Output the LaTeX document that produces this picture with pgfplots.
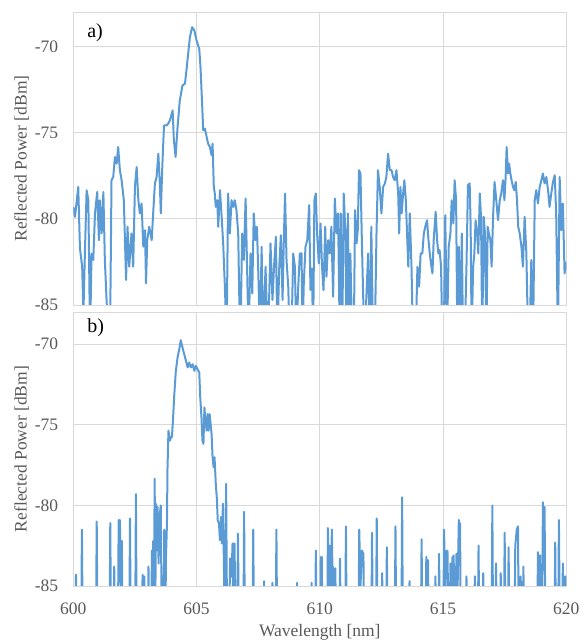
\documentclass[border=0pt]{standalone}
\usepackage{fontspec}
\setmainfont{Liberation Serif}
\usepackage{pgfplots}
\pgfplotsset{compat=1.18}
\definecolor{lineblue}{RGB}{91,155,213}
\definecolor{gridgray}{RGB}{217,217,217}
\definecolor{labelgray}{RGB}{89,89,89}
\pgfplotsset{
  common/.style={
    scale only axis, width=493pt,
    xmin=600, xmax=620, ymin=-85, ymax=-68,
    xtick={600,605,610,615,620}, ytick={-85,-80,-75,-70},
    grid=major,
    major grid style={color=gridgray, line width=0.8pt},
    axis line style={color=gridgray, line width=0.8pt},
    major tick length=0pt,
    /pgf/number format/assume math mode=true,
    tick label style={font=\fontsize{17.5}{20}\selectfont, color=labelgray, inner sep=0pt},
    yticklabel shift=15pt,
    xticklabel shift=16.5pt,
    every axis y label/.style={at={(axis description cs:-0.105,0.5)}, rotate=90, anchor=center,
      font=\fontsize{17.5}{20}\selectfont, color=labelgray},
    every axis x label/.style={at={(axis description cs:0.5,-0.186)}, anchor=base,
      font=\fontsize{17.5}{20}\selectfont, color=labelgray},
    ylabel={Reflected Power [dBm]},
    clip=true,
  },
  spec/.style={color=lineblue, line width=2pt, line join=round, mark=none},
}
\begin{document}
\begin{tikzpicture}
\path[use as bounding box] (0,0) rectangle (582pt,641pt);
% ---------------- a) ----------------
\begin{axis}[common, height=293pt, at={(73.3pt,336pt)}, anchor=south west, xticklabels={}]
\addplot[spec] coordinates {
(600.00,-79.31)(600.07,-79.88)(600.20,-78.15)(600.27,-81.72)(600.36,-82.78)(600.41,-85.5)
(600.47,-82.01)(600.54,-78.34)(600.61,-78.92)(600.68,-87)(600.74,-82.01)(600.81,-82.39)
(600.88,-79.69)(600.97,-78.44)(601.04,-81.24)(601.08,-78.92)(601.15,-80.85)(601.22,-78.44)
(601.28,-82.39)(601.35,-84.71)(601.42,-87)(601.49,-87)(601.55,-77.76)(601.62,-77.57)
(601.69,-76.41)(601.76,-76.80)(601.82,-75.83)(601.89,-77.18)(601.96,-77.76)(602.05,-78.92)
(602.14,-83.55)(602.20,-80.46)(602.27,-82.78)(602.36,-80.85)(602.43,-82.78)(602.50,-78.15)
(602.57,-76.99)(602.64,-78.92)(602.70,-79.69)(602.77,-79.11)(602.84,-81.62)(602.91,-80.66)
(602.95,-83.75)(603.00,-81.24)(603.08,-80.46)(603.18,-81.24)(603.24,-79.69)(603.31,-77.95)
(603.38,-77.57)(603.45,-76.22)(603.51,-77.95)(603.55,-79.69)(603.61,-76.99)(603.68,-74.58)
(603.78,-74.58)(603.85,-74.48)(603.92,-74.29)(604.03,-73.71)(604.08,-75.44)(604.15,-76.41)
(604.23,-74.67)(604.32,-73.13)(604.43,-72.26)(604.53,-72.16)(604.59,-71.39)(604.66,-70.42)
(604.73,-69.46)(604.82,-68.88)(604.91,-69.07)(605.00,-69.65)(605.11,-70.14)(605.16,-71.20)
(605.22,-73.13)(605.27,-74.86)(605.34,-74.77)(605.41,-75.25)(605.47,-75.64)(605.54,-75.83)
(605.61,-76.31)(605.65,-75.64)(605.70,-78.15)(605.74,-78.53)(605.78,-79.31)(605.84,-78.92)
(605.88,-80.46)(605.95,-78.34)(606.01,-79.69)(606.08,-81.43)(606.15,-83.94)(606.22,-87)
(606.28,-78.53)(606.35,-80.85)(606.42,-78.92)(606.49,-79.31)(606.55,-78.92)(606.62,-79.50)
(606.69,-80.85)(606.73,-84.32)(606.78,-87)(606.85,-80.85)(606.92,-82.39)(606.99,-78.82)
(607.05,-82.78)(607.11,-87)(607.19,-82.01)(607.26,-84.32)(607.32,-79.69)(607.39,-81.24)
(607.45,-80.46)(607.51,-83.36)(607.57,-87)(607.64,-81.62)(607.70,-87)(607.80,-82.78)
(607.88,-87)(607.95,-84.32)(608.00,-81.43)(608.08,-84.71)(608.15,-82.59)(608.22,-81.04)
(608.28,-87)(608.35,-82.97)(608.42,-80.95)(608.49,-84.71)(608.54,-81.24)(608.59,-78.53)
(608.65,-82.39)(608.72,-83.94)(608.78,-87)(608.85,-87)(608.92,-82.01)(608.99,-82.78)
(609.05,-87)(609.12,-84.13)(609.19,-82.01)(609.26,-82.01)(609.30,-87)(609.35,-83.75)
(609.42,-81.62)(609.49,-81.24)(609.57,-79.21)(609.62,-84.13)(609.68,-82.88)(609.73,-87)
(609.78,-78.92)(609.84,-78.53)(609.89,-80.85)(609.96,-82.59)(610.03,-80.27)(610.09,-82.78)
(610.15,-84.13)(610.22,-80.46)(610.27,-83.36)(610.34,-81.24)(610.41,-82.01)(610.47,-80.46)
(610.54,-84.52)(610.61,-78.82)(610.68,-80.85)(610.74,-79.69)(610.81,-87)(610.85,-79.69)
(610.91,-87)(610.97,-78.53)(611.04,-80.85)(611.08,-87)(611.14,-79.69)(611.19,-87)
(611.24,-82.01)(611.31,-87)(611.38,-87)(611.43,-79.50)(611.49,-81.43)(611.54,-80.66)
(611.59,-77.18)(611.65,-77.37)(611.70,-80.85)(611.76,-84.52)(611.82,-87)(611.89,-84.52)
(611.96,-82.01)(612.03,-87)(612.09,-80.46)(612.16,-87)(612.23,-87)(612.30,-80.85)
(612.36,-77.18)(612.43,-78.15)(612.50,-79.69)(612.57,-78.15)(612.64,-77.95)(612.70,-77.57)
(612.77,-76.22)(612.84,-77.18)(612.91,-77.18)(612.97,-77.57)(613.04,-77.76)(613.11,-77.18)
(613.18,-78.53)(613.22,-80.85)(613.27,-78.15)(613.32,-79.69)(613.38,-78.53)(613.43,-77.76)
(613.49,-78.92)(613.54,-80.85)(613.59,-82.78)(613.65,-79.69)(613.72,-82.78)(613.78,-87)
(613.89,-87)(613.96,-82.78)(614.03,-83.94)(614.09,-82.01)(614.16,-82.01)(614.22,-80.85)
(614.28,-80.46)(614.35,-80.08)(614.41,-81.24)(614.46,-82.01)(614.53,-82.78)(614.57,-83.17)
(614.62,-81.24)(614.70,-79.59)(614.76,-81.24)(614.81,-82.01)(614.86,-81.81)(614.92,-82.78)
(614.97,-87)(615.03,-87)(615.09,-79.79)(615.16,-87)(615.23,-81.62)(615.30,-80.85)
(615.35,-78.92)(615.42,-80.27)(615.47,-77.76)(615.53,-78.92)(615.58,-87)(615.64,-81.62)
(615.69,-87)(615.76,-80.85)(615.81,-87)(615.88,-87)(615.95,-82.78)(616.01,-78.05)
(616.08,-77.95)(616.12,-80.46)(616.16,-87)(616.22,-82.78)(616.27,-82.01)(616.32,-80.08)
(616.38,-80.85)(616.43,-82.01)(616.49,-78.53)(616.54,-79.88)(616.59,-87)(616.65,-79.88)
(616.70,-80.85)(616.76,-87)(616.81,-80.46)(616.86,-80.85)(616.92,-81.24)(616.97,-82.78)
(617.03,-79.88)(617.09,-77.86)(617.16,-78.92)(617.23,-80.08)(617.30,-78.92)(617.36,-78.53)
(617.43,-77.76)(617.49,-78.92)(617.54,-77.57)(617.58,-75.83)(617.64,-77.37)(617.68,-76.80)
(617.73,-77.37)(617.78,-77.76)(617.84,-78.15)(617.89,-78.34)(617.95,-77.86)(618.00,-78.92)
(618.05,-80.46)(618.11,-80.85)(618.18,-81.62)(618.24,-82.78)(618.31,-79.88)(618.38,-82.01)
(618.45,-87)(618.51,-87)(618.58,-82.39)(618.65,-87)(618.72,-78.92)(618.78,-78.34)
(618.85,-79.11)(618.92,-78.15)(618.99,-77.76)(619.05,-77.37)(619.12,-77.95)(619.19,-77.57)
(619.26,-78.34)(619.32,-79.31)(619.39,-78.53)(619.46,-77.86)(619.53,-77.47)(619.59,-79.69)
(619.66,-87)(619.73,-77.57)(619.80,-80.66)(619.86,-79.11)(619.93,-83.17)(620.00,-82.5)
};
\node[anchor=west, font=\fontsize{20}{23}\selectfont, inner sep=0pt] at (axis description cs:0.028,0.928) {a)};
\end{axis}
% ---------------- b) ----------------
\begin{axis}[common, height=274pt, at={(73.3pt,55pt)}, anchor=south west, xlabel={Wavelength [nm]}]
\addplot[spec] coordinates {
(600.00,-88)(600.08,-88)(600.11,-84.3)(600.14,-88)(600.32,-88)(600.35,-81.5)(600.38,-88)
(600.92,-88)(600.95,-81.0)(600.98,-88)(601.47,-88)(601.50,-81.1)(601.53,-88)
(601.63,-88)(601.66,-83.8)(601.69,-88)(601.81,-88)(601.84,-80.9)(601.86,-82.5)(601.89,-80.9)
(601.93,-85.5)(601.97,-82.2)(602.00,-88)(602.27,-88)(602.30,-80.8)(602.33,-88)
(602.51,-88)(602.54,-79.3)(602.57,-88)(602.78,-88)(602.81,-84.3)(602.85,-86)(602.88,-84.4)(602.91,-88)
(603.02,-88)(603.05,-83.8)(603.08,-88)(603.16,-88)(603.19,-82.8)(603.22,-86)(603.24,-82.2)(603.27,-88)
(603.30,-78.35)(603.33,-86)(603.35,-79.9)(603.38,-82.8)(603.42,-80.1)(603.46,-83.6)(603.50,-80.7)
(603.55,-80.0)(603.59,-88)(603.62,-84.4)(603.66,-88)(603.69,-81.5)(603.73,-88)(603.76,-83.2)(603.80,-81.1)
(603.82,-77.8)(603.86,-75.36)(603.92,-75.98)(603.96,-75.77)(604.00,-75.77)(604.05,-74.53)
(604.09,-73.30)(604.16,-71.65)(604.23,-70.82)(604.30,-70.31)(604.36,-69.75)(604.43,-70.21)
(604.50,-70.62)(604.57,-71.03)(604.64,-71.44)(604.70,-71.13)(604.77,-71.44)(604.84,-71.24)
(604.91,-71.65)(604.97,-71.34)(605.04,-71.55)(605.11,-71.75)(605.15,-73.30)(605.20,-74.53)
(605.24,-75.98)(605.28,-76.18)(605.32,-73.92)(605.36,-74.74)(605.41,-75.36)(605.45,-74.33)
(605.49,-75.36)(605.53,-74.33)(605.57,-74.95)(605.61,-75.56)(605.65,-77.01)(605.69,-77.62)
(605.73,-77.01)(605.78,-78.65)(605.82,-79.48)(605.86,-80.92)(605.91,-81.13)(605.95,-82.16)
(605.99,-80.72)(606.03,-82.36)(606.07,-79.89)(606.11,-83.60)(606.15,-88)(606.20,-78.65)
(606.24,-88)(606.32,-88)(606.36,-83.29)(606.42,-84.42)(606.46,-82.36)(606.50,-88)
(606.54,-82.36)(606.59,-88)(606.65,-88)(606.68,-81.75)(606.72,-88)
(606.90,-88)(606.93,-80.4)(606.96,-88)(607.27,-88)(607.30,-81.5)(607.33,-88)
(607.71,-88)(607.74,-84.7)(607.77,-88)(608.05,-88)(608.08,-84.8)(608.11,-88)
(608.21,-88)(608.24,-81.5)(608.27,-88)(609.05,-88)(609.08,-84.8)(609.11,-88)
(609.64,-88)(609.67,-84.8)(609.70,-88)(609.81,-88)(609.84,-82.8)(609.87,-88)
(610.01,-88)(610.04,-83.2)(610.06,-85)(610.08,-83.2)(610.11,-88)
(610.30,-88)(610.33,-81.4)(610.37,-85)(610.41,-82.5)(610.45,-85)(610.49,-81.5)(610.52,-85)(610.54,-83.8)(610.58,-88)
(610.60,-88)(610.63,-83.9)(610.66,-88)(610.79,-88)(610.82,-83.3)(610.85,-88)
(611.03,-88)(611.06,-81.3)(611.09,-88)(611.57,-88)(611.60,-81.5)(611.65,-85)(611.71,-82.8)(611.77,-83.0)(611.80,-88)
(612.09,-88)(612.12,-81.7)(612.15,-88)(612.28,-88)(612.31,-80.8)(612.34,-88)
(612.50,-88)(612.53,-84.2)(612.56,-88)(612.69,-88)(612.72,-82.6)(612.75,-88)
(613.04,-88)(613.07,-81.3)(613.10,-88)(613.31,-88)(613.34,-79.5)(613.37,-88)
(613.61,-88)(613.64,-84.7)(613.67,-88)(614.10,-88)(614.13,-82.1)(614.16,-88)
(614.29,-88)(614.32,-83.2)(614.36,-84)(614.39,-83.4)(614.42,-88)
(614.66,-88)(614.69,-84.4)(614.72,-88)(614.81,-88)(614.84,-83.0)(614.87,-88)
(615.01,-88)(615.04,-81.5)(615.09,-85)(615.14,-82.8)(615.16,-84)(615.18,-82.8)(615.22,-88)
(615.27,-88)(615.30,-83.6)(615.34,-85.5)(615.38,-83.2)(615.40,-85.5)(615.43,-83.1)(615.47,-88)
(615.51,-88)(615.54,-83.0)(615.58,-86)(615.64,-80.9)(615.67,-82)(615.69,-81.1)(615.72,-88)
(615.92,-88)(615.95,-84.4)(615.98,-88)(616.26,-88)(616.29,-84.4)(616.32,-88)
(616.41,-88)(616.44,-82.5)(616.47,-88)(616.60,-88)(616.63,-84.2)(616.66,-88)
(616.97,-88)(617.00,-80.0)(617.03,-88)(617.12,-88)(617.15,-83.6)(617.18,-88)
(617.31,-88)(617.34,-84.2)(617.37,-88)(617.47,-88)(617.50,-81.7)(617.53,-88)
(617.63,-88)(617.66,-82.6)(617.69,-88)(617.90,-88)(617.93,-82.5)(617.99,-81.5)(618.04,-81.3)(618.07,-88)
(618.12,-88)(618.15,-84.4)(618.18,-88)(618.23,-88)(618.26,-83.8)(618.29,-88)
(618.82,-88)(618.85,-82.9)(618.90,-85)(618.94,-83.1)(618.97,-88)
(619.02,-88)(619.05,-79.8)(619.09,-82)(619.12,-80.1)(619.15,-88)
(619.52,-88)(619.55,-82.3)(619.58,-88)(619.67,-88)(619.70,-80.9)(619.74,-88)
(619.83,-88)(619.86,-83.6)(619.90,-88)(619.93,-88)(619.96,-84.4)(620.00,-88)
};
\node[anchor=west, font=\fontsize{20}{23}\selectfont, inner sep=0pt] at (axis description cs:0.028,0.943) {b)};
\end{axis}
\end{tikzpicture}
\end{document}
